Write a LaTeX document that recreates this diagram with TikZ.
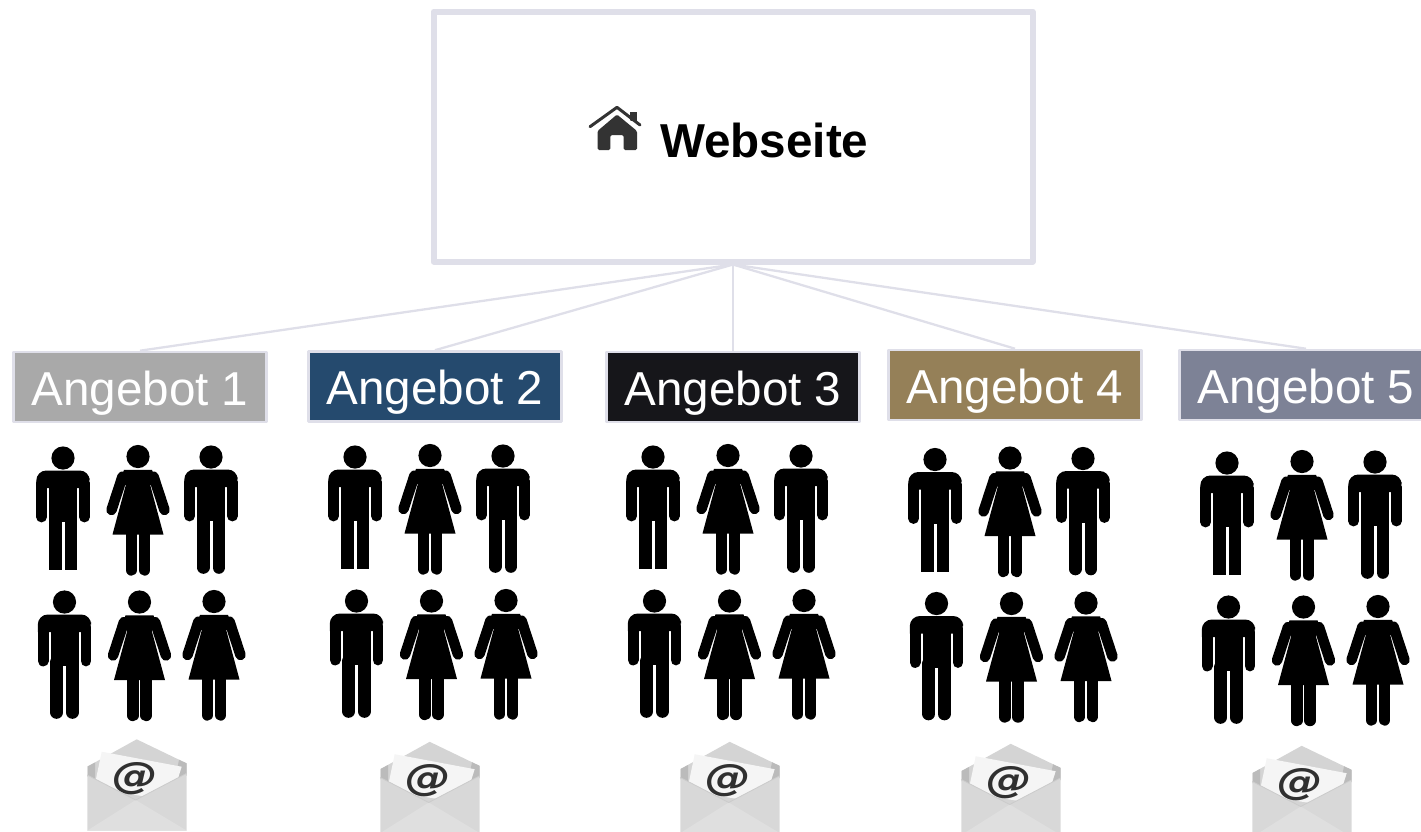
\documentclass[tikz,border=0pt]{standalone}
\usepackage{fontspec}
\setmainfont{Liberation Sans}
\newfontfamily\atfont{DejaVu Sans}
\tikzset{
  px/.style={x=1pt,y=-1pt},
  edge/.style={draw=lineC,line width=2.3pt},
  offer/.style={draw=lineC,line width=2.6pt,line join=round,minimum width=253pt,minimum height=70pt,inner sep=0pt,text height=36pt,text depth=0pt,text=white,font=\fontsize{47.6}{50}\selectfont},
  man/.pic={
    \fill (0,0) circle[radius=11.6];
    \fill (-26.7,30) {[rounded corners=10] -- (-26.7,12.5) -- (26.7,12.5) -- (26.7,30)} -- cycle;
    \fill (-14,12.5) rectangle (14,64);
    \draw[line width=10.8pt,line cap=round] (-21.4,25) -- (-21.4,59);
    \draw[line width=10.8pt,line cap=round] (21.4,25) -- (21.4,59);
    \draw[line width=12.6pt,line cap=round] (-7.8,60) -- (-7.8,110.5);
    \draw[line width=12.6pt,line cap=round] (7.8,60) -- (7.8,110.5);
  },
  manflat/.pic={
    \fill (0,0) circle[radius=11.6];
    \fill (-26.7,30) {[rounded corners=10] -- (-26.7,12.5) -- (26.7,12.5) -- (26.7,30)} -- cycle;
    \fill (-14,12.5) rectangle (14,64);
    \draw[line width=10.8pt,line cap=round] (-21.4,25) -- (-21.4,59);
    \draw[line width=10.8pt,line cap=round] (21.4,25) -- (21.4,59);
    \fill (-14.1,60) rectangle (-1.5,112);
    \fill (14.1,60) rectangle (1.5,112);
  },
  woman/.pic={
    \fill (0,0) circle[radius=11.6];
    \fill (-14,13.3) -- (14,13.3) -- (17,22) -- (12.3,29) -- (25.5,78) -- (-25.5,78) -- (-12.3,29) -- (-17,22) -- cycle;
    \draw[line width=10.5pt,line cap=round] (-15.5,20) -- (-26.5,53.5);
    \draw[line width=10.5pt,line cap=round] (15.5,20) -- (26.5,53.5);
    \draw[line width=11.4pt,line cap=round] (-6.6,72) -- (-6.6,113.5);
    \draw[line width=11.4pt,line cap=round] (6.6,72) -- (6.6,113.5);
  },
  envelope/.pic={
    \fill[envA] (-49.5,28) -- (-0.3,0.8) -- (49.5,24.8) -- (49.5,37) -- (-1,62) -- (-49.5,38) -- cycle;
    \fill[envB] (-49.5,28) -- (-42,24) -- (-42,42) -- (-49.5,38) -- cycle;
    \fill[envB] (49.5,24.8) -- (42,21.2) -- (38,42) -- (49.5,37) -- cycle;
    \fill[paperC] (-35.3,13.2) -- (44.7,28.2) -- (34,62) -- (-43,50) -- cycle;
    \node[text=atC,font=\fontsize{37}{37}\atfont\bfseries\itshape,inner sep=0pt,xscale=1.23] (at) at (-1.3,40) {@};
    \fill[envC] (-49.7,36.5) -- (-1.3,61.5) -- (49.7,34.8) -- (49.7,92) -- (-49.7,92) -- cycle;
    \fill[envD] (-49.7,92) -- (-1.3,61.5) -- (49.7,92) -- cycle;
    \draw[envE,line width=0.8pt] (-49.7,36.5) -- (-1.3,61.5) -- (49.7,34.8);
  },
  house/.pic={
    \fill[iconC,rounded corners=1.5] (-19.5,8) -- (0,-8.5) -- (20,8) -- (20,27) -- (6.7,27) -- (6.7,12) -- (-6.7,12) -- (-6.7,27) -- (-19.5,27) -- cycle;
    \fill[iconC] (13,-11) rectangle (19.7,-2);
    \draw[white,line width=2pt] (-27,9) -- (0,-12) -- (26,9);
    \draw[iconC,line width=3pt,line cap=round,line join=round] (-27,3.7) -- (0,-15.7) -- (23,2);
  }
}
\definecolor{lineC}{HTML}{DFDFE9}
\definecolor{gA}{HTML}{A9A9A9}
\definecolor{gB}{HTML}{254A6E}
\definecolor{gC}{HTML}{16161A}
\definecolor{gD}{HTML}{958058}
\definecolor{gE}{HTML}{7D8296}
\definecolor{iconC}{HTML}{333333}
\definecolor{atC}{HTML}{303030}
\definecolor{paperC}{HTML}{F5F5F5}
\definecolor{envA}{HTML}{D4D4D4}
\definecolor{envB}{HTML}{BBBBBB}
\definecolor{envC}{HTML}{D8D8D8}
\definecolor{envD}{HTML}{DFDFDF}
\definecolor{envE}{HTML}{CBCBCB}
\begin{document}
\begin{tikzpicture}[px]
\useasboundingbox (0,0) rectangle (1421,831);
\clip (0,0) rectangle (1421,831);
\node[draw=lineC,line width=6pt,line join=round,minimum width=599pt,minimum height=250pt,inner sep=0pt] (web) at (733,136.5) {};
\pic at (617,123) {house};
\node[anchor=west,inner sep=0pt,font=\fontsize{47.6}{50}\selectfont\bfseries] (webt) at (660,140.5) {Webseite};
\node[offer,fill=gA] (a1) at (140,387) {Angebot 1};
\node[offer,fill=gB] (a2) at (435,386.5) {Angebot 2};
\node[offer,fill=gC] (a3) at (733,387) {Angebot 3};
\node[offer,fill=gD] (a4) at (1015,385) {Angebot 4};
\node[offer,fill=gE] (a5) at (1306,385) {Angebot 5};
\foreach \t in {a1,a2,a3,a4,a5} \draw[edge] (web.south) -- (\t.north);
\foreach \dx/\dy in {0/0,292/-1,590/-1,872/1.5,1164/5}{
  \begin{scope}[shift={(\dx,\dy)}]
    \pic at (63,458) {manflat};
    \pic at (138,456.5) {woman};
    \pic at (211,457) {man};
    \pic at (64.5,602) {man};
    \pic at (139.5,602) {woman};
    \pic at (214,601.5) {woman};
  \end{scope}
}
\pic at (137,738.5) {envelope};
\pic at (430,741) {envelope};
\pic at (730,741) {envelope};
\pic at (1011,743) {envelope};
\pic at (1302,745) {envelope};
\end{tikzpicture}
\end{document}
